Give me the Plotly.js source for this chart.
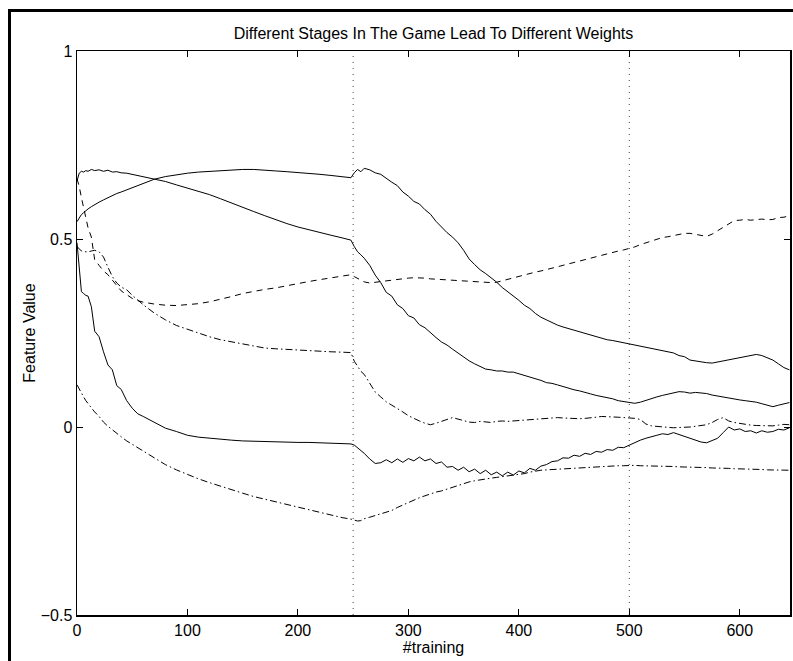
<!DOCTYPE html>
<html>
<head>
<meta charset="utf-8">
<script src="https://cdn.plot.ly/plotly-3.0.1.min.js"></script>
<style>
  html, body { margin: 0; padding: 0; background: #fff; overflow: hidden; }
  #chart { position: absolute; left: 0; top: 0; width: 793px; height: 661px; }
  #frame { position: absolute; left: 8px; top: 9px; width: 900px; height: 800px;
           border-left: 3px solid #000; border-top: 3px solid #000; pointer-events: none; }
</style>
</head>
<body>
<div id="chart"></div>
<div id="frame"></div>
<script>
// ---- data ----
const training = [
  0,2,4,6,8,10,13,16,20,24,28,32,36,40,45,50,55,60,70,80,90,100,110,120,130,140,150,160,170,180,190,200,210,220,230,240,248,
  251,254,257,260,
  265,270,275,280,285,290,295,300,305,310,
  315,320,325,330,335,340,345,350,355,360,
  365,370,375,380,385,390,395,400,405,410,
  415,420,425,430,435,440,445,450,455,460,
  465,470,475,480,485,490,495,500,505,510,
  515,520,525,530,535,540,545,550,555,560,
  565,570,575,580,585,590,595,600,605,610,
  615,620,625,630,635,640,645
];

// solid, upper, falling
const solidA = [
  0.655,0.675,0.68,0.678,0.682,0.68,0.685,0.682,0.684,0.68,0.683,0.678,0.679,0.676,0.675,0.672,0.67,0.667,0.661,0.653,0.644,0.636,0.627,0.618,0.607,0.595,0.583,0.573,0.562,0.551,0.541,0.532,0.524,0.517,0.51,0.503,0.497,
  0.48,0.466,0.458,0.449,
  0.43,0.404,0.384,0.358,0.348,0.325,0.315,0.296,0.29,0.272,
  0.264,0.25,0.238,0.226,0.218,0.207,0.197,0.185,0.176,0.168,
  0.162,0.154,0.152,0.149,0.149,0.146,0.146,0.142,0.138,0.133,
  0.129,0.124,0.118,0.116,0.112,0.107,0.104,0.099,0.096,0.091,
  0.088,0.084,0.081,0.078,0.075,0.07,0.068,0.065,0.063,0.066,
  0.071,0.077,0.08,0.084,0.088,0.091,0.094,0.093,0.09,0.092,
  0.091,0.089,0.085,0.082,0.079,0.077,0.074,0.072,0.07,0.068,
  0.066,0.062,0.058,0.054,0.058,0.062,0.065
];

// solid, upper, rising then falling
const solidB = [
  0.546,0.556,0.565,0.57,0.576,0.58,0.586,0.592,0.598,0.604,0.61,0.615,0.621,0.625,0.631,0.637,0.643,0.649,0.659,0.666,0.671,0.675,0.678,0.68,0.682,0.684,0.685,0.685,0.684,0.681,0.679,0.677,0.674,0.672,0.669,0.666,0.663,
  0.676,0.685,0.679,0.688,
  0.684,0.676,0.672,0.661,0.651,0.642,0.625,0.614,0.6,0.593,
  0.578,0.566,0.547,0.532,0.517,0.505,0.49,0.47,0.447,0.432,
  0.418,0.408,0.397,0.385,0.371,0.36,0.348,0.337,0.324,0.315,
  0.302,0.292,0.285,0.277,0.271,0.266,0.262,0.258,0.253,0.249,
  0.244,0.24,0.236,0.232,0.23,0.227,0.225,0.222,0.218,0.216,
  0.213,0.21,0.205,0.202,0.2,0.197,0.19,0.187,0.178,0.175,
  0.172,0.171,0.17,0.173,0.175,0.178,0.182,0.185,0.189,0.192,
  0.193,0.19,0.184,0.178,0.168,0.158,0.152
];

// solid, lower
const solidC = [
  0.49,0.43,0.36,0.355,0.35,0.348,0.32,0.255,0.24,0.2,0.165,0.152,0.11,0.1,0.07,0.05,0.035,0.028,0.012,-0.003,-0.012,-0.022,-0.027,-0.03,-0.032,-0.035,-0.037,-0.038,-0.039,-0.04,-0.04,-0.041,-0.041,-0.042,-0.042,-0.043,-0.045,
  -0.048,-0.055,-0.062,-0.07,
  -0.085,-0.097,-0.095,-0.087,-0.095,-0.085,-0.094,-0.084,-0.09,-0.08,
  -0.09,-0.085,-0.097,-0.093,-0.107,-0.105,-0.115,-0.107,-0.119,-0.112,
  -0.124,-0.115,-0.127,-0.12,-0.13,-0.12,-0.128,-0.117,-0.122,-0.11,
  -0.115,-0.104,-0.1,-0.092,-0.09,-0.082,-0.083,-0.075,-0.078,-0.07,
  -0.073,-0.065,-0.067,-0.06,-0.062,-0.054,-0.055,-0.048,-0.042,-0.035,
  -0.03,-0.025,-0.022,-0.018,-0.02,-0.015,-0.02,-0.025,-0.03,-0.036,
  -0.04,-0.042,-0.035,-0.03,-0.015,0.0,-0.008,-0.005,-0.012,-0.01,
  -0.016,-0.01,-0.014,-0.012,-0.006,-0.008,-0.002
];

// dashed
const dashedA = [
  0.66,0.64,0.61,0.58,0.56,0.53,0.505,0.445,0.43,0.415,0.405,0.39,0.375,0.362,0.352,0.342,0.336,0.332,0.327,0.324,0.323,0.325,0.328,0.333,0.339,0.347,0.355,0.361,0.366,0.37,0.376,0.382,0.387,0.392,0.396,0.401,0.405,
  0.4,0.395,0.39,0.386,
  0.383,0.385,0.388,0.39,0.392,0.394,0.395,0.396,0.397,0.397,
  0.396,0.394,0.393,0.392,0.392,0.391,0.389,0.388,0.387,0.387,
  0.386,0.385,0.384,0.385,0.389,0.394,0.398,0.401,0.405,0.409,
  0.412,0.415,0.418,0.421,0.426,0.43,0.434,0.437,0.442,0.446,
  0.45,0.454,0.458,0.461,0.464,0.468,0.471,0.474,0.479,0.485,
  0.49,0.495,0.499,0.504,0.506,0.509,0.512,0.515,0.515,0.512,
  0.508,0.507,0.513,0.522,0.532,0.542,0.549,0.55,0.552,0.55,
  0.551,0.553,0.551,0.552,0.557,0.558,0.562
];

// dash-dot, upper
const dashDotA = [
  0.48,0.474,0.468,0.466,0.465,0.466,0.468,0.47,0.466,0.452,0.425,0.4,0.383,0.372,0.365,0.35,0.338,0.325,0.303,0.285,0.27,0.26,0.248,0.24,0.232,0.226,0.22,0.214,0.21,0.208,0.206,0.204,0.203,0.202,0.2,0.199,0.198,
  0.175,0.16,0.148,0.14,
  0.115,0.093,0.08,0.067,0.058,0.05,0.04,0.03,0.022,0.016,
  0.01,0.006,0.01,0.016,0.02,0.025,0.022,0.017,0.013,0.012,
  0.015,0.013,0.012,0.015,0.016,0.015,0.016,0.017,0.018,0.019,
  0.02,0.02,0.021,0.023,0.025,0.024,0.023,0.022,0.022,0.023,
  0.024,0.026,0.028,0.028,0.027,0.026,0.025,0.025,0.023,0.02,
  0.008,0.003,0.001,0.0,-0.001,-0.002,-0.002,-0.001,0.0,0.002,
  0.004,0.006,0.012,0.02,0.025,0.016,0.012,0.009,0.006,0.005,
  0.004,0.003,0.003,0.003,0.005,0.007,0.006
];

// dash-dot, lower
const dashDotB = [
  0.112,0.1,0.09,0.08,0.07,0.062,0.05,0.04,0.028,0.013,0.002,-0.008,-0.018,-0.026,-0.037,-0.046,-0.055,-0.065,-0.082,-0.1,-0.114,-0.127,-0.138,-0.148,-0.158,-0.168,-0.176,-0.185,-0.192,-0.2,-0.207,-0.214,-0.221,-0.228,-0.235,-0.241,-0.245,
  -0.247,-0.25,-0.249,-0.244,
  -0.24,-0.236,-0.232,-0.226,-0.222,-0.214,-0.207,-0.2,-0.194,-0.188,
  -0.183,-0.177,-0.173,-0.17,-0.165,-0.159,-0.155,-0.15,-0.146,-0.143,
  -0.14,-0.138,-0.136,-0.134,-0.132,-0.13,-0.128,-0.126,-0.124,-0.12,
  -0.117,-0.115,-0.114,-0.113,-0.112,-0.111,-0.11,-0.109,-0.108,-0.107,
  -0.106,-0.106,-0.105,-0.104,-0.104,-0.103,-0.103,-0.102,-0.102,-0.103,
  -0.103,-0.104,-0.104,-0.105,-0.105,-0.105,-0.106,-0.106,-0.107,-0.107,
  -0.108,-0.108,-0.109,-0.109,-0.11,-0.11,-0.111,-0.111,-0.112,-0.112,
  -0.113,-0.113,-0.114,-0.114,-0.115,-0.115,-0.115
];

const stageBounds = [250, 500];
const xTicks = [0, 100, 200, 300, 400, 500, 600];
const yTicks = [-0.5, 0, 0.5, 1];

// ---- drawing ----
const FONT = 'Liberation Sans, Arial, Helvetica, sans-serif';
const DASH = '6px,5px';
const DASHDOT = '7px,3px,1.5px,3px';

function line(y, dash) {
  return { x: training, y: y, type: 'scatter', mode: 'lines',
           line: { color: '#000', width: 1, dash: dash }, hoverinfo: 'skip' };
}

const traces = [
  line(solidA, 'solid'),
  line(solidB, 'solid'),
  line(solidC, 'solid'),
  line(dashedA, DASH),
  line(dashDotA, DASHDOT),
  line(dashDotB, DASHDOT)
];

const shapes = stageBounds.map(b => ({
  type: 'line', xref: 'x', yref: 'paper', x0: b, x1: b, y0: 0, y1: 1,
  line: { color: '#444', width: 1, dash: '1px,5px' }, layer: 'below'
}));

const layout = {
  width: 793, height: 661,
  margin: { l: 77, r: 3, t: 51, b: 46, pad: 0 },
  paper_bgcolor: '#fff', plot_bgcolor: '#fff',
  showlegend: false,
  font: { family: FONT, size: 16, color: '#000' },
  title: { text: 'Different Stages In The Game Lead To Different Weights',
           font: { family: FONT, size: 16, color: '#000' },
           xref: 'paper', x: 0.5, xanchor: 'center',
           yref: 'container', y: 1 - 33.4 / 661, yanchor: 'middle' },
  xaxis: {
    range: [0, 645.5], tickvals: xTicks, ticktext: xTicks.map(String),
    ticks: 'inside', ticklen: 6, tickwidth: 1, tickcolor: '#000',
    showline: true, linecolor: '#000', linewidth: 1.5, mirror: 'ticks',
    showgrid: false, zeroline: false, fixedrange: true,
    tickfont: { family: FONT, size: 16 },
    title: { text: '#training', font: { family: FONT, size: 16 }, standoff: 2 }
  },
  yaxis: {
    range: [-0.5, 1], tickvals: yTicks, ticktext: yTicks.map(v => v < 0 ? '\u2212' + String(-v) : String(v)),
    ticks: 'inside', ticklen: 6, tickwidth: 1, tickcolor: '#000',
    showline: true, linecolor: '#000', linewidth: 1.5, mirror: 'ticks',
    showgrid: false, zeroline: false, fixedrange: true,
    tickfont: { family: FONT, size: 16 },
    title: { text: 'Feature Value', font: { family: FONT, size: 16 }, standoff: 1 }
  },
  shapes: shapes
};

Plotly.newPlot('chart', traces, layout, { staticPlot: true, displayModeBar: false });
</script>
</body>
</html>
